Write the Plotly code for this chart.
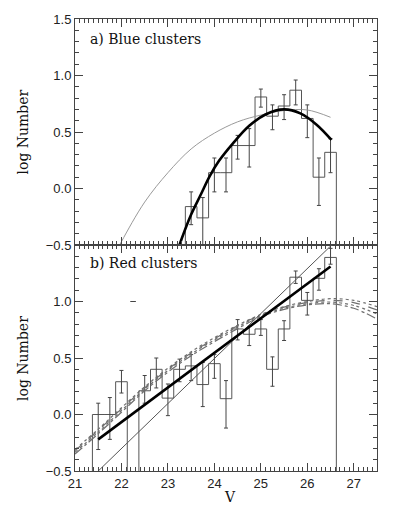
import plotly.graph_objects as go
from plotly.subplots import make_subplots

BIN = 0.25      # bin width in V (mag)
FLOOR = -1.0    # stand-in for log(0), drawn off the bottom of the axes

# ---- a) Blue clusters -------------------------------------------------
blue_v = [23.5, 23.75, 24.0, 24.25, 24.5, 24.75, 25.0, 25.25, 25.5, 25.75, 26.0, 26.25, 26.5]
blue_logn = [-0.16, -0.26, 0.14, 0.14, 0.38, 0.38, 0.81, 0.64, 0.73, 0.87, 0.62, 0.10, 0.32]
blue_hi = [-0.03, -0.08, 0.27, 0.27, 0.47, 0.53, 0.88, 0.74, 0.83, 0.96, 0.74, 0.27, 0.44]
blue_lo = [-0.32, None, -0.03, -0.03, 0.26, 0.19, 0.72, 0.52, 0.61, 0.74, 0.45, -0.15, 0.14]

# gaussian fit (thick)
blue_fit_v = [23.2, 23.3, 23.5, 23.7, 23.9, 24.1, 24.4, 24.75, 25.1, 25.5, 25.85, 26.2, 26.52]
blue_fit_y = [-0.56, -0.44, -0.23, -0.06, 0.11, 0.245, 0.40, 0.555, 0.655, 0.70, 0.665, 0.565, 0.43]

# reference curve (thin grey)
blue_ref_v = [21.85, 22.0, 22.5, 23.0, 23.5, 24.0, 24.5, 25.0, 25.5, 26.0, 26.5]
blue_ref_y = [-0.59, -0.47, -0.12, 0.14, 0.35, 0.49, 0.59, 0.65, 0.69, 0.695, 0.63]

# ---- b) Red clusters --------------------------------------------------
red_v = [21.5, 21.75, 22.0, 22.25, 22.5, 22.75, 23.0, 23.25, 23.5, 23.75, 24.0,
         24.25, 24.5, 24.75, 25.0, 25.25, 25.5, 25.75, 26.0, 26.25, 26.5]
red_logn = [0.0, 0.0, 0.29, None, 0.21, 0.40, 0.145, 0.40, 0.43, 0.265, 0.45,
            0.14, 0.757, 0.71, 0.757, 0.40, 0.757, 1.215, 1.01, 1.205, 1.39]
red_hi = [0.10, 0.15, 0.39, None, 0.345, 0.50, 0.27, 0.49, 0.53, 0.46, 0.53,
          0.30, 0.84, 0.78, 0.84, 0.51, 0.83, 1.27, 1.08, 1.29, 1.47]
red_lo = [-0.31, -0.22, 0.19, None, 0.10, 0.235, -0.01, 0.29, 0.30, 0.07, 0.32,
          -0.12, 0.66, 0.61, 0.70, 0.25, 0.655, 1.16, 0.88, 1.10, 1.33]

# stray tick mark at V=22.25
red_stray_v = [22.25]
red_stray_y = [1.0]

# power-law fit (thick) and steeper line (thin)
red_fit_v = [21.5, 26.5]
red_fit_y = [-0.22, 1.31]
red_steep_v = [21.4, 26.6]
red_steep_y = [-0.54, 1.53]

# bundle of gaussian LFs (dotted grey)
band_v = [21.0, 21.5, 22.0, 22.5, 23.0, 23.5, 24.0, 24.5, 25.0, 25.5, 26.0, 26.5, 27.0, 27.5]
band_a = [-0.31, -0.13, 0.06, 0.245, 0.41, 0.555, 0.68, 0.79, 0.885, 0.955, 1.00, 1.025, 1.01, 0.955]
band_b = [-0.32, -0.14, 0.05, 0.235, 0.40, 0.545, 0.67, 0.785, 0.88, 0.95, 0.99, 1.01, 0.99, 0.925]
band_c = [-0.335, -0.155, 0.035, 0.225, 0.39, 0.535, 0.66, 0.775, 0.875, 0.94, 0.98, 0.995, 0.965, 0.89]
band_d = [-0.35, -0.17, 0.02, 0.21, 0.375, 0.52, 0.645, 0.76, 0.865, 0.93, 0.97, 0.98, 0.94, 0.845]

HIST = '#555555'
ERR = '#444444'
AX = '#444444'


def steps(v, logn):
    xs, ys = [v[0] - BIN / 2], [FLOOR]
    for c, n in zip(v, logn):
        n = FLOOR if n is None else n
        xs += [c - BIN / 2, c + BIN / 2]
        ys += [n, n]
    xs.append(v[-1] + BIN / 2)
    ys.append(FLOOR)
    return xs, ys


def errbars(v, logn, hi, lo):
    xs, ys, up, dn = [], [], [], []
    for c, n, h, l in zip(v, logn, hi, lo):
        if n is None:
            continue
        xs.append(c)
        ys.append(n)
        up.append(h - n)
        dn.append(n - (FLOOR if l is None else l))
    return go.Scatter(x=xs, y=ys, mode='markers', marker=dict(size=0.1, color=ERR),
                      error_y=dict(type='data', symmetric=False, array=up, arrayminus=dn,
                                   color=ERR, thickness=1, width=2),
                      showlegend=False, hoverinfo='skip')


fig = make_subplots(rows=2, cols=1, shared_xaxes=True, vertical_spacing=0)

# top panel
hx, hy = steps(blue_v, blue_logn)
fig.add_trace(go.Scatter(x=hx, y=hy, mode='lines', line=dict(color=HIST, width=1),
                         showlegend=False), row=1, col=1)
fig.add_trace(errbars(blue_v, blue_logn, blue_hi, blue_lo), row=1, col=1)
fig.add_trace(go.Scatter(x=blue_ref_v, y=blue_ref_y, mode='lines', line_shape='spline',
                         line=dict(color='#9a9a9a', width=1), showlegend=False), row=1, col=1)
fig.add_trace(go.Scatter(x=blue_fit_v, y=blue_fit_y, mode='lines', line_shape='spline',
                         line=dict(color='black', width=2.6), showlegend=False), row=1, col=1)

# bottom panel
hx, hy = steps(red_v, red_logn)
fig.add_trace(go.Scatter(x=hx, y=hy, mode='lines', line=dict(color=HIST, width=1),
                         showlegend=False), row=2, col=1)
fig.add_trace(errbars(red_v, red_logn, red_hi, red_lo), row=2, col=1)
fig.add_trace(go.Scatter(x=red_stray_v, y=red_stray_y, mode='markers',
                         marker=dict(symbol='line-ew', size=4, line=dict(color=ERR, width=1)),
                         showlegend=False), row=2, col=1)
for band, dash in zip([band_a, band_b, band_c, band_d], ['dot', 'dash', 'dot', 'dashdot']):
    fig.add_trace(go.Scatter(x=band_v, y=band, mode='lines', line_shape='spline',
                             line=dict(color='#6f6f6f', width=1.2, dash=dash),
                             showlegend=False), row=2, col=1)
fig.add_trace(go.Scatter(x=red_steep_v, y=red_steep_y, mode='lines',
                         line=dict(color='#555555', width=1), showlegend=False), row=2, col=1)
fig.add_trace(go.Scatter(x=red_fit_v, y=red_fit_y, mode='lines',
                         line=dict(color='black', width=2.6), showlegend=False), row=2, col=1)

tickfont = dict(family='Liberation Sans', size=13, color='#222222')
minor = dict(ticks='inside', ticklen=4, tickcolor=AX)
xaxis_style = dict(range=[21, 27.5], dtick=1, tick0=21, ticks='inside', ticklen=8,
                   tickcolor=AX, minor=dict(dtick=0.1, **minor), mirror='allticks',
                   showline=True, linecolor=AX, linewidth=1, showgrid=False,
                   zeroline=False, tickfont=tickfont, ticklabeloverflow='allow')
yaxis_style = dict(range=[-0.5, 1.5], ticks='inside', ticklen=8, tickcolor=AX,
                   minor=dict(dtick=0.1, tick0=0, **minor), mirror='allticks',
                   showline=True, linecolor=AX, linewidth=1, showgrid=False,
                   zeroline=False, tickformat='.1f', tickfont=tickfont,
                   ticklabeloverflow='allow')

fig.update_xaxes(**xaxis_style)
fig.update_xaxes(showticklabels=False, row=1, col=1)
fig.update_yaxes(**yaxis_style)
fig.update_yaxes(tickvals=[-0.5, 0, 0.5, 1.0, 1.5], row=1, col=1)
fig.update_yaxes(tickvals=[-0.5, 0, 0.5, 1.0], row=2, col=1)

serif = dict(family='DejaVu Serif', size=14, color='#111111')
fig.add_annotation(text='a) Blue clusters', x=0.043, y=0.956, xref='paper', yref='paper',
                   xanchor='left', yanchor='middle', showarrow=False, font=serif)
fig.add_annotation(text='b) Red clusters', x=0.043, y=0.46, xref='paper', yref='paper',
                   xanchor='left', yanchor='middle', showarrow=False, font=serif)
fig.add_annotation(text='log Number', x=-0.172, y=0.749, xref='paper', yref='paper',
                   textangle=-90, xanchor='center', yanchor='middle', showarrow=False, font=serif)
fig.add_annotation(text='log Number', x=-0.172, y=0.248, xref='paper', yref='paper',
                   textangle=-90, xanchor='center', yanchor='middle', showarrow=False, font=serif)
fig.add_annotation(text='V', x=0.513, y=-0.0566, xref='paper', yref='paper',
                   xanchor='center', yanchor='middle', showarrow=False, font=serif)

# the page body keeps its 8px default margin, so the figure is trimmed by that much
fig.update_layout(width=391, height=509, margin=dict(l=67, r=22, t=4, b=46),
                  paper_bgcolor='white', plot_bgcolor='white', showlegend=False)

fig.write_html("out.html")
